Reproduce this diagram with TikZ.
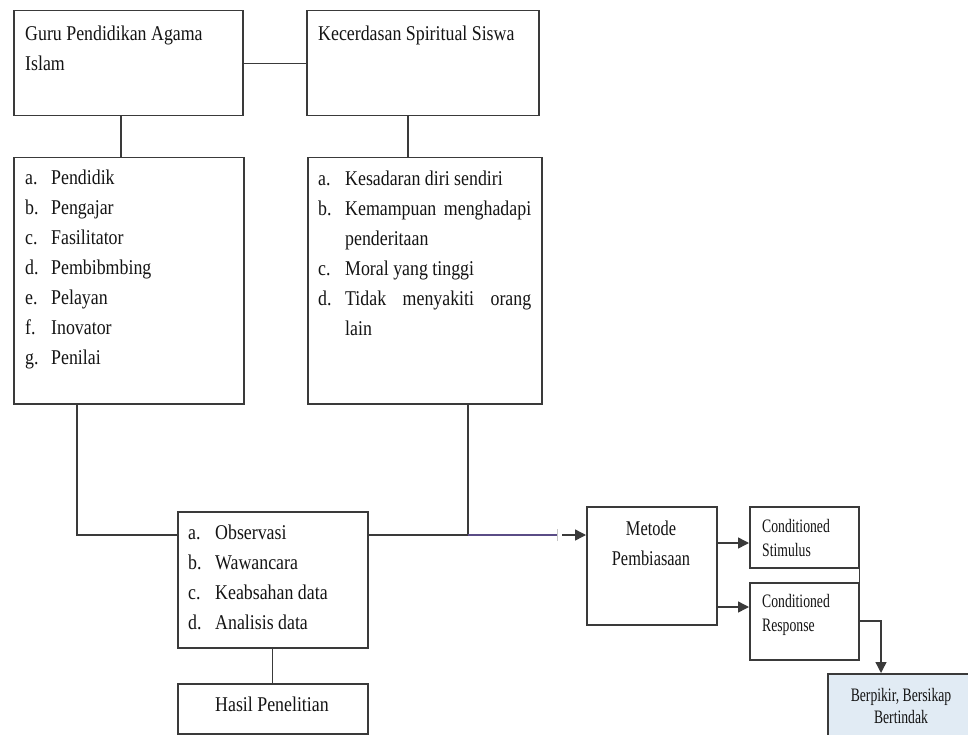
\documentclass[tikz,border=0pt]{standalone}
\usepackage{fontspec}
\setmainfont{Liberation Serif}
\newfontfamily\mainf[FakeStretch=0.85]{Liberation Serif}
\newfontfamily\smallf[FakeStretch=0.72]{Liberation Serif}
\newfontfamily\metf[FakeStretch=0.78]{Liberation Serif}
\usetikzlibrary{arrows.meta}
\definecolor{ln}{HTML}{3A3A3A}
\definecolor{tx}{HTML}{141414}
\definecolor{pl}{HTML}{5A4C86}
\definecolor{wm}{HTML}{E1EBF4}
\begin{document}
\begin{tikzpicture}[x=1pt,y=-1pt,
  box/.style={draw=ln,line width=1.5pt,inner sep=0pt,fill=white,anchor=north west},
  conn/.style={draw=ln,line width=1.4pt},
  arr/.style={draw=ln,line width=1.4pt,-{Triangle[length=11pt,width=11pt]}},
  txt/.style={inner sep=0pt,anchor=north west,text=tx,font=\mainf\fontsize{21}{30}\selectfont},
  stxt/.style={inner sep=0pt,anchor=north west,text=tx,font=\smallf\fontsize{19}{24}\selectfont},
  mtxt/.style={inner sep=0pt,anchor=north,text=tx,font=\metf\fontsize{21}{30}\selectfont}]
\useasboundingbox (0,0) rectangle (968,735);
% boxes
\node[box,minimum width=229pt,minimum height=105pt] (guru) at (13,10) {};
\node[box,minimum width=232pt,minimum height=105pt] (kec) at (306,10) {};
\node[box,minimum width=230pt,minimum height=246pt] (peran) at (13,157) {};
\node[box,minimum width=234pt,minimum height=246pt] (kecL) at (307,157) {};
\node[box,minimum width=190pt,minimum height=136pt] (obs) at (177,511) {};
\node[box,minimum width=190pt,minimum height=50pt] (hasil) at (177,683) {};
\node[box,minimum width=130pt,minimum height=118pt] (met) at (586,506) {};
\node[box,minimum width=109pt,minimum height=61pt] (stim) at (749,506) {};
\node[box,minimum width=109pt,minimum height=77pt] (resp) at (749,582) {};
\node[box,fill=wm,minimum width=160pt,minimum height=80pt] (berp) at (827,673) {};
% texts
\node[txt] (guruT) at (25,19) {\begin{tabular}{@{}l@{}}Guru Pendidikan Agama\\Islam\end{tabular}};
\node[txt] (kecT) at (318,19) {\begin{tabular}{@{}l@{}}Kecerdasan Spiritual Siswa\end{tabular}};
\node[txt] (peranT) at (25,163) {\begin{tabular}{@{}p{26pt}@{}l@{}}
a. & Pendidik\\ b. & Pengajar\\ c. & Fasilitator\\ d. & Pembibmbing\\
e. & Pelayan\\ f. & Inovator\\ g. & Penilai\end{tabular}};
\node[txt] (kecLT) at (318,164) {\begin{tabular}{@{}p{27pt}@{}l@{}}
a. & Kesadaran diri sendiri\\
b. & \makebox[186pt][s]{Kemampuan menghadapi}\\
   & penderitaan\\
c. & Moral yang tinggi\\
d. & \makebox[186pt][s]{Tidak menyakiti orang}\\
   & lain\end{tabular}};
\node[txt] (obsT) at (188,518) {\begin{tabular}{@{}p{27pt}@{}l@{}}
a. & Observasi\\ b. & Wawancara\\ c. & Keabsahan data\\ d. & Analisis data\end{tabular}};
\node[txt,anchor=north] (hasilT) at (272,690) {\begin{tabular}{@{}c@{}}Hasil Penelitian\end{tabular}};
\node[mtxt] (metT) at (651,514) {\begin{tabular}{@{}c@{}}Metode\\Pembiasaan\end{tabular}};
\node[stxt] (stimT) at (762,515) {\begin{tabular}{@{}l@{}}Conditioned\\Stimulus\end{tabular}};
\node[stxt] (respT) at (762,590) {\begin{tabular}{@{}l@{}}Conditioned\\Response\end{tabular}};
\node[stxt,anchor=north,font=\smallf\fontsize{19}{22}\selectfont] (berpT) at (901,686) {\begin{tabular}{@{}c@{}}Berpikir, Bersikap\\Bertindak\end{tabular}};
% helper coordinates
\coordinate (c1) at (121,0);
\coordinate (c2) at (408,0);
\coordinate (j0) at (77,535);
\coordinate (j1) at (468,535);
\coordinate (tk) at (557,535);
\coordinate (a0) at (562,535);
\coordinate (s0) at (716,543);
\coordinate (s1) at (716,607);
\coordinate (r0) at (881,621);
% connectors
\draw[conn] (guru.east) -- (kec.west);
\draw[conn] (guru.south -| c1) -- (peran.north -| c1);
\draw[conn] (kec.south -| c2) -- (kecL.north -| c2);
\draw[conn] (peran.south -| j0) -- (j0) -- (obs.west |- j0);
\draw[conn] (kecL.south -| j1) -- (j1);
\draw[conn] (obs.east |- j1) -- (j1);
\draw[draw=pl,line width=1.3pt] (j1) -- (tk);
\draw[draw=gray!45,line width=0.6pt] ([yshift=-6pt]tk) -- ([yshift=6pt]tk);
\draw[arr] (a0) -- (met.west |- a0);
\draw[conn] (obs.south) -- (hasil.north);
\draw[arr] (met.east |- s0) -- (stim.west |- s0);
\draw[arr] (met.east |- s1) -- (resp.west |- s1);
\draw[conn] (stim.south east) -- (resp.north east);
\draw[arr] (resp.east |- r0) -- (r0) -- (berp.north -| r0);
\end{tikzpicture}
\end{document}
